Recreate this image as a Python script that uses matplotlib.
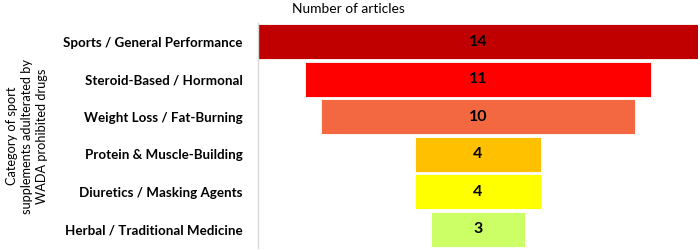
import matplotlib
matplotlib.use("Agg")
import matplotlib.pyplot as plt

categories = ["Sports / General Performance", "Steroid-Based / Hormonal",
              "Weight Loss / Fat-Burning", "Protein & Muscle-Building",
              "Diuretics / Masking Agents", "Herbal / Traditional Medicine"]
values = [14, 11, 10, 4, 4, 3]
colors = ["#C00000", "#FF0000", "#F46841", "#FFC000", "#FFFF00", "#CCFF66"]

plt.rcParams['font.family'] = ['Lato', 'DejaVu Sans']

fig = plt.figure(figsize=(7, 2.5), dpi=100)
ax = fig.add_axes([258/700, 2/250, 440/700, 225/250])

y = list(range(len(values)))
lefts = [-v/2 for v in values]
ax.barh(y, values, left=lefts, height=0.94, color=colors, edgecolor='white', linewidth=0.6)
for yi, v in zip(y, values):
    ax.text(0, yi, str(v), ha='center', va='center', fontsize=11.5, fontweight='bold', color='black')

ax.set_xlim(-7, 7)
ax.set_ylim(len(values) - 0.5, -0.5)
ax.set_yticks(y)
ax.set_yticklabels(categories, fontsize=9.6, fontweight='bold')
ax.tick_params(axis='y', length=0, pad=11)
ax.set_xticks([])
for s in ['top', 'right', 'bottom']:
    ax.spines[s].set_visible(False)
ax.spines['left'].set_color('#D9D9D9')
ax.spines['left'].set_linewidth(1)

fig.text(348/700, 1 - 9/250, "Number of articles", ha='center', va='center', fontsize=9.9)
fig.text(27/700, 1 - 136/250, "Category of sport\nsupplements adulterated by\nWADA prohibited drugs",
         ha='center', va='center', rotation=90, fontsize=9.2, linespacing=1.35)

fig.savefig("out.png", dpi=100)
